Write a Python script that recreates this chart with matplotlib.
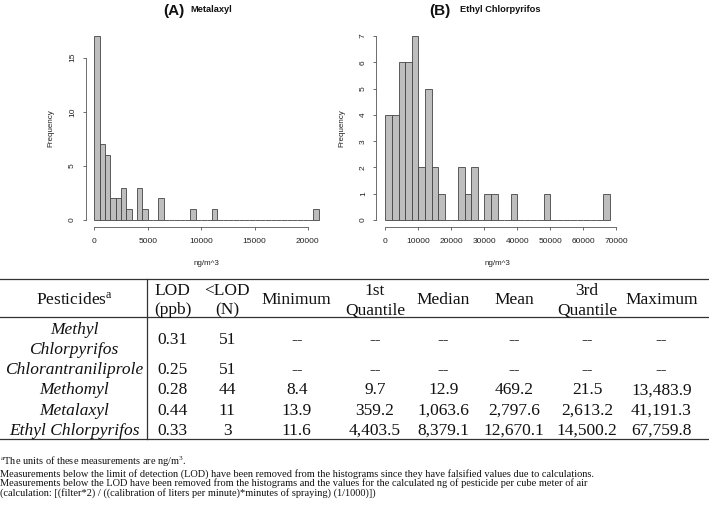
"""Metalaxyl / ethyl chlorpyrifos histograms with summary table below."""

import matplotlib
matplotlib.use("Agg")
import numpy as np
import matplotlib.pyplot as plt

# ---- histogram data (bin counts) ----
metalaxyl_bin = 500
metalaxyl_counts = [17, 7, 6, 2, 2, 3, 1, 0, 3, 1,
                    0, 0, 2, 0, 0, 0, 0, 0, 1, 0,
                    0, 0, 1, 0, 0, 0, 0, 0, 0, 0,
                    0, 0, 0, 0, 0, 0, 0, 0, 0, 0,
                    0, 1]
metalaxyl_xticks = [0, 5000, 10000, 15000, 20000]
metalaxyl_yticks = [0, 5, 10, 15]

ethyl_bin = 2000
ethyl_counts = [4, 4, 6, 6, 7, 2, 5, 2, 1, 0,
                0, 2, 1, 2, 0, 1, 1, 0, 0, 1,
                0, 0, 0, 0, 1, 0, 0, 0, 0, 0,
                0, 0, 0, 1]
ethyl_xticks = [0, 10000, 20000, 30000, 40000, 50000, 60000, 70000]
ethyl_yticks = [0, 1, 2, 3, 4, 5, 6, 7]

# ---- table data ----
headers = ["Pesticides$^{\\rm a}$", "LOD\n(ppb)", "<LOD\n(N)", "Minimum", "1st\nQuantile",
           "Median", "Mean", "3rd\nQuantile", "Maximum"]
pesticides = ["Methyl\nChlorpyrifos", "Chlorantraniliprole", "Methomyl", "Metalaxyl",
              "Ethyl Chlorpyrifos"]
lod_ppb = ["0.31", "0.25", "0.28", "0.44", "0.33"]
below_lod = ["51", "51", "44", "11", "3"]
minimum = ["--", "--", "8.4", "13.9", "11.6"]
first_q = ["--", "--", "9.7", "359.2", "4,403.5"]
median = ["--", "--", "12.9", "1,063.6", "8,379.1"]
mean = ["--", "--", "469.2", "2,797.6", "12,670.1"]
third_q = ["--", "--", "21.5", "2,613.2", "14,500.2"]
maximum = ["--", "--", "13,483.9", "41,191.3", "67,759.8"]

footnotes = [
    "${}^{\\rm a}$The units of these measurements are ng/m$^{3}$.",
    "Measurements below the limit of detection (LOD) have been removed from the histograms "
    "since they have falsified values due to calculations.",
    "Measurements below the LOD have been removed from the histograms and the values for "
    "the calculated ng of pesticide per cube meter of air",
    "(calculation: [(filter*2) / ((calibration of liters per minute)*minutes of spraying) (1/1000)])",
]

plt.rcParams["mathtext.fontset"] = "custom"
plt.rcParams["mathtext.rm"] = "Liberation Serif"
plt.rcParams["mathtext.it"] = "Liberation Serif:italic"

W, H = 709, 508
fig = plt.figure(figsize=(W / 100, H / 100), dpi=100)

SANS = "Liberation Sans"
SERIF = "Liberation Serif"


def r_hist(ax, counts, width, xticks, yticks, xlabel_y):
    counts = np.asarray(counts)
    edges = np.arange(len(counts)) * width
    ax.bar(edges, counts, width=width, align="edge", color="#bebebe",
           edgecolor="#444444", linewidth=0.6)
    span = len(counts) * width
    ax.set_xlim(-0.04 * span, 1.04 * span)
    top = counts.max()
    ax.set_ylim(-0.04 * top, 1.04 * top)
    for side in ("top", "right"):
        ax.spines[side].set_visible(False)
    ax.spines["left"].set_bounds(yticks[0], yticks[-1])
    ax.spines["bottom"].set_bounds(xticks[0], xticks[-1])
    for side in ("left", "bottom"):
        ax.spines[side].set_linewidth(0.6)
        ax.spines[side].set_color("#555555")
    ax.set_xticks(xticks)
    ax.set_yticks(yticks)
    ax.set_xticklabels([str(t) for t in xticks], fontsize=6.0, family=SANS)
    ax.set_yticklabels([str(t) for t in yticks], fontsize=6.0, family=SANS,
                       rotation=90, va="center")
    ax.tick_params(direction="out", length=2.5, width=0.6, color="#555555",
                   labelcolor="#222222")
    ax.tick_params(axis="x", pad=4.8)
    ax.tick_params(axis="y", pad=4.3)
    ax.set_xlabel("ng/m^3", fontsize=5.8, family=SANS, color="#222222")
    ax.xaxis.set_label_coords(0.5, xlabel_y)
    ax.xaxis.label.set_va("center")
    ax.set_ylabel("Frequency", fontsize=5.8, family=SANS, color="#222222")
    ax.yaxis.set_label_coords(-34.8 / 242.0, 0.5)
    ax.yaxis.label.set_va("center")


ax_bottom = (H - 227.4) / H
ax_height = (227.4 - 28.7) / H
ax_width = 242.0 / W
xlabel_y = ((H - 263.5) / H - ax_bottom) / ax_height

ax_a = fig.add_axes([85.5 / W, ax_bottom, ax_width, ax_height])
r_hist(ax_a, metalaxyl_counts, metalaxyl_bin, metalaxyl_xticks, metalaxyl_yticks, xlabel_y)
ax_b = fig.add_axes([376.5 / W, ax_bottom, ax_width, ax_height])
r_hist(ax_b, ethyl_counts, ethyl_bin, ethyl_xticks, ethyl_yticks, xlabel_y)

# overlay axes in pixel units for titles, table and footnotes
tax = fig.add_axes([0, 0, 1, 1], zorder=-1)
tax.set_xlim(0, W)
tax.set_ylim(H, 0)
tax.axis("off")

# panel titles
tax.text(184, 10.5, "(A)", fontsize=11, fontweight="bold", family=SANS,
         ha="right", va="center", color="#111111")
tax.text(190, 9.5, "Metalaxyl", fontsize=6.7, fontweight="bold", family=SANS,
         ha="left", va="center", color="#111111")
tax.text(451, 10.5, "(B)", fontsize=11, fontweight="bold", family=SANS,
         ha="right", va="center", color="#111111")
tax.text(460, 9.5, "Ethyl Chlorpyrifos", fontsize=6.7, fontweight="bold", family=SANS,
         ha="left", va="center", color="#111111")

# table
col_x = [74, 172.7, 227.3, 296.7, 375, 443.5, 514, 587, 661.5]
fs = 12.5
txt = dict(fontsize=fs, family=SERIF, color="#111111", ha="center", va="center")
line_kw = dict(color="#333333", linewidth=0.9)

tax.plot([0, W], [278.7, 278.7], **line_kw)
tax.plot([0, W], [317.3, 317.3], **line_kw)
tax.plot([0, W], [438.5, 438.5], **line_kw)
tax.plot([147.3, 147.3], [278.7, 438.5], **line_kw)

for x, head in zip(col_x, headers):
    parts = head.split("\n")
    if len(parts) == 1:
        tax.text(x, 300.5, parts[0], **txt)
    else:
        tax.text(x, 290.8, parts[0], **txt)
        tax.text(x, 310.5, parts[1], **txt)

row_y = [340.4, 369.7, 390.4, 411.0, 431.0]
columns = [lod_ppb, below_lod, minimum, first_q, median, mean, third_q, maximum]
for i, name in enumerate(pesticides):
    parts = name.split("\n")
    if len(parts) == 2:
        tax.text(col_x[0], 330.5, parts[0], style="italic", **txt)
        tax.text(col_x[0], 349.5, parts[1], style="italic", **txt)
    else:
        tax.text(col_x[0], row_y[i], name, style="italic", **txt)
    for x, col in zip(col_x[1:], columns):
        tax.text(x, row_y[i], col[i], **txt)

# footnotes (baseline positioned so the superscript line does not push the others)
foot_base = [465.4, 476.6, 486.2, 495.8]
for y, line in zip(foot_base, footnotes):
    tax.text(0.5, y, line, fontsize=7.5, family=SERIF, color="#111111",
             ha="left", va="baseline")

fig.savefig("out.png", dpi=100)
